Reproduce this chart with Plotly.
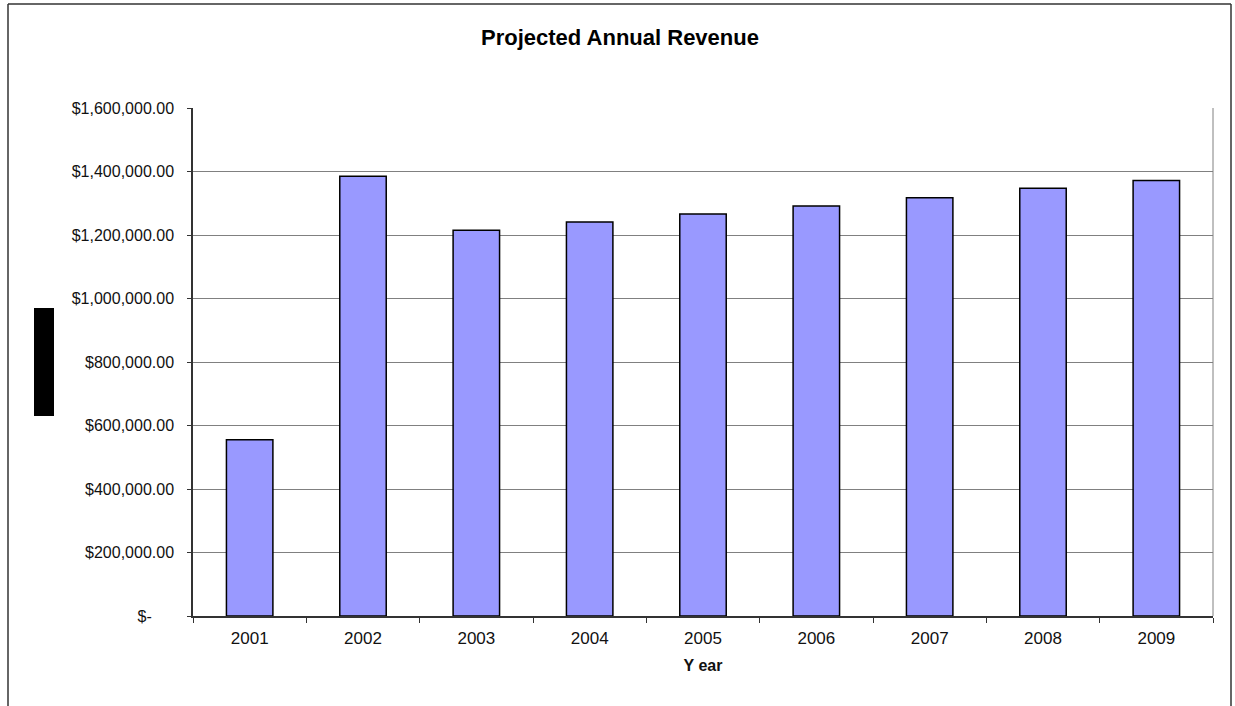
import plotly.graph_objects as go

# Revenue projection per year
years = ["2001", "2002", "2003", "2004", "2005", "2006", "2007", "2008", "2009"]
revenue = [555000, 1385000, 1215000, 1241000, 1266000, 1291000, 1317000, 1347000, 1372000]

y_tickvals = [0, 200000, 400000, 600000, 800000, 1000000, 1200000, 1400000, 1600000]
y_ticktext = ["$-" + "\u00a0" * 5, "$200,000.00", "$400,000.00", "$600,000.00", "$800,000.00",
              "$1,000,000.00", "$1,200,000.00", "$1,400,000.00", "$1,600,000.00"]

W, H = 1235, 706
L, R, T, B = 193, 22, 108, 90
pw, ph = W - L - R, H - T - B


def px_x(p):
    return (p - L) / pw


def px_y(p):
    return (H - B - p) / ph


fig = go.Figure(
    go.Bar(
        x=years,
        y=revenue,
        marker=dict(color="#9999FF", line=dict(color="#000000", width=1.5)),
        width=0.41,
    )
)

fig.update_layout(
    width=W,
    height=H,
    margin=dict(l=L, r=R, t=T, b=B),
    paper_bgcolor="white",
    plot_bgcolor="white",
    showlegend=False,
    font=dict(family="Liberation Sans, Arial, sans-serif", color="#111111"),
    title=dict(
        text="<b>Projected Annual Revenue</b>",
        x=620 / W,
        xref="container",
        xanchor="center",
        y=1 - 37 / H,
        yref="container",
        yanchor="middle",
        font=dict(size=22, color="#000000"),
    ),
    bargap=0.59,
    shapes=[
        # chart frame
        dict(type="line", xref="paper", yref="paper",
             x0=px_x(8), x1=px_x(8), y0=px_y(4), y1=px_y(720),
             line=dict(color="#333333", width=1.5)),
        dict(type="line", xref="paper", yref="paper",
             x0=px_x(8), x1=px_x(1231), y0=px_y(4), y1=px_y(4),
             line=dict(color="#333333", width=1.5)),
        dict(type="line", xref="paper", yref="paper",
             x0=px_x(1231), x1=px_x(1231), y0=px_y(4), y1=px_y(720),
             line=dict(color="#333333", width=1.5)),
        # plot area right edge
        dict(type="line", xref="paper", yref="paper",
             x0=1, x1=1, y0=0, y1=1,
             line=dict(color="#808080", width=1)),
        # axis title block
        dict(type="rect", xref="paper", yref="paper",
             x0=px_x(34), x1=px_x(54), y0=px_y(308), y1=px_y(416),
             fillcolor="#000000", line=dict(width=0)),
    ],
)

fig.update_xaxes(
    type="category",
    showline=True,
    linecolor="#333333",
    linewidth=1.5,
    ticks="outside",
    tickson="boundaries",
    ticklen=5,
    tickcolor="#333333",
    tickfont=dict(size=17, color="#111111"),
    ticklabelstandoff=6,
    showgrid=False,
    title=dict(text="<b>Y ear</b>", font=dict(size=16, color="#111111"), standoff=13),
)

fig.update_yaxes(
    range=[0, 1600000],
    tickvals=y_tickvals,
    ticktext=y_ticktext,
    showline=True,
    linecolor="#333333",
    linewidth=1.5,
    ticks="outside",
    ticklen=4,
    tickcolor="#333333",
    tickfont=dict(size=16, color="#111111"),
    showgrid=True,
    gridcolor="#808080",
    gridwidth=1,
    zeroline=False,
    ticklabelstandoff=10,
)

fig.write_html("out.html")
